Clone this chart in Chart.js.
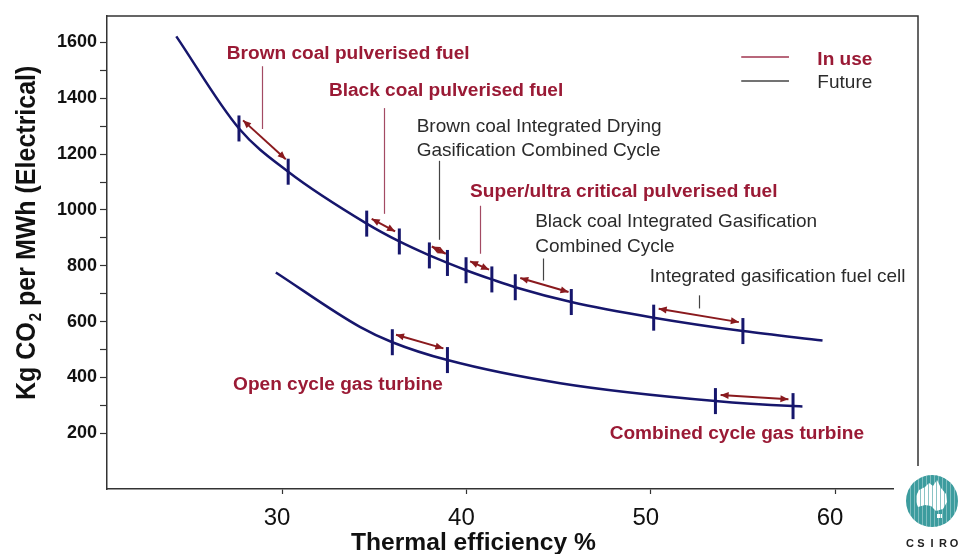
<!DOCTYPE html>
<html>
<head>
<meta charset="utf-8">
<script src="https://cdn.jsdelivr.net/npm/chart.js@4.4.1/dist/chart.umd.min.js"></script>
<style>
  html, body { margin: 0; padding: 0; background: #fff; }
  canvas { display: block; }
</style>
</head>
<body>
<canvas id="co2Chart" width="959" height="554"></canvas>
<script>
// coal curve (upper) - thermal efficiency % vs kg CO2 / MWh
const effCoal = [24.26, 27.66, 30.33, 34.59, 36.36, 37.99, 38.97, 39.98, 41.38, 42.65, 45.69, 50.16, 55.0, 59.32];
const co2Coal = [1622, 1292, 1137, 951, 887, 837, 810, 784, 751, 723, 670, 614, 566, 532];

// gas curve (lower)
const effGas = [29.66, 34.22, 35.98, 38.97, 45.09, 53.51, 57.72, 58.23];
const co2Gas = [776, 581, 526, 462, 379, 315, 297, 296];

// range markers on the curves
const markEffCoal = [27.66, 30.33, 34.59, 36.36, 37.99, 38.97, 39.98, 41.38, 42.65, 45.69, 50.16, 55.0];
const markCo2Coal = [1292, 1137, 951, 887, 837, 810, 784, 751, 723, 670, 614, 566];
const markEffGas = [35.98, 38.97, 53.51, 57.72];
const markCo2Gas = [526, 462, 315, 297];

// double arrows (start/end efficiency and co2)
const arrowEff = [[27.88, 30.2], [34.86, 36.13], [38.12, 38.88], [40.2, 41.23], [42.92, 45.54], [50.43, 54.78], [36.18, 38.75], [53.79, 57.47]];
const arrowCo2 = [[1321, 1182], [968, 923], [869, 843], [816, 786], [756, 706], [646, 598], [553, 504], [337, 322]];

// axis ticks
const xTicks = [30, 40, 50, 60];
const yTicks = [200, 300, 400, 500, 600, 700, 800, 900, 1000, 1100, 1200, 1300, 1400, 1500, 1600];
const yLabels = [200, 400, 600, 800, 1000, 1200, 1400, 1600];

// text notes: [text, eff, co2 (baseline), type]
const notes = [
  ['Brown coal pulverised fuel', 27.0, 1542, 'use'],
  ['Black coal pulverised fuel', 32.54, 1410, 'use'],
  ['Brown coal Integrated Drying', 37.3, 1281, 'future'],
  ['Gasification Combined Cycle', 37.3, 1194, 'future'],
  ['Super/ultra critical pulverised fuel', 40.2, 1047, 'use'],
  ['Black coal Integrated Gasification', 43.73, 938, 'future'],
  ['Combined Cycle', 43.73, 851, 'future'],
  ['Integrated gasification fuel cell', 49.95, 743, 'future'],
  ['Open cycle gas turbine', 27.34, 356, 'use'],
  ['Combined cycle gas turbine', 47.77, 180, 'use']
];
// leader lines: [eff, co2 top, co2 bottom, type]
const leaders = [
  [28.9, 1515, 1290, 'use'],
  [35.54, 1365, 986, 'use'],
  [38.53, 1176, 893, 'future'],
  [40.74, 1015, 843, 'use'],
  [44.17, 826, 747, 'future'],
  [52.6, 694, 647, 'future']
];

const NAVY = '#16166c';
const RED = '#9a1a35';
const ARROW = '#8a1a1e';
const GREY = '#2b2b2b';

function pts(xs, ys) { return xs.map((x, i) => ({ x: x, y: ys[i] })); }

const datasets = [
  { type: 'scatter', data: pts(markEffCoal, markCo2Coal), pointStyle: 'line', pointRotation: 90, pointRadius: 13, pointBorderWidth: 3, borderColor: NAVY, order: 0 },
  { type: 'scatter', data: pts(markEffGas, markCo2Gas), pointStyle: 'line', pointRotation: 90, pointRadius: 13, pointBorderWidth: 3, borderColor: NAVY, order: 0 },
  { type: 'line', data: pts(effCoal, co2Coal), borderColor: NAVY, borderWidth: 2.5, pointRadius: 0, tension: 0.4, cubicInterpolationMode: 'monotone', order: 2 },
  { type: 'line', data: pts(effGas, co2Gas), borderColor: NAVY, borderWidth: 2.5, pointRadius: 0, tension: 0.4, cubicInterpolationMode: 'monotone', order: 2 }
];
arrowEff.forEach((e, i) => {
  datasets.push({ type: 'line', data: pts(e, arrowCo2[i]), borderColor: ARROW, borderWidth: 2, pointRadius: 0, tension: 0, isArrow: true, order: 1 });
});

function drawText(ctx, txt, x, y, font, color, sx) {
  ctx.save();
  ctx.translate(x, y);
  ctx.scale(sx, 1);
  ctx.font = font;
  ctx.fillStyle = color;
  ctx.textAlign = 'left';
  ctx.textBaseline = 'alphabetic';
  ctx.fillText(txt, 0, 0);
  ctx.restore();
}

function head(ctx, tip, from) {
  const a = Math.atan2(tip.y - from.y, tip.x - from.x);
  const len = 8, w = 3.5;
  ctx.beginPath();
  ctx.moveTo(tip.x, tip.y);
  ctx.lineTo(tip.x - len * Math.cos(a) + w * Math.sin(a), tip.y - len * Math.sin(a) - w * Math.cos(a));
  ctx.lineTo(tip.x - len * Math.cos(a) - w * Math.sin(a), tip.y - len * Math.sin(a) + w * Math.cos(a));
  ctx.closePath();
  ctx.fill();
}

const extras = {
  id: 'extras',
  afterDatasetsDraw(chart) {
    const ctx = chart.ctx;
    const xs = chart.scales.x, ys = chart.scales.y;
    const area = chart.chartArea;

    // arrow heads
    ctx.save();
    ctx.fillStyle = ARROW;
    chart.data.datasets.forEach((ds, i) => {
      if (!ds.isArrow) return;
      const p = chart.getDatasetMeta(i).data;
      head(ctx, p[0], p[1]);
      head(ctx, p[1], p[0]);
    });
    ctx.restore();

    // leader lines
    ctx.save();
    ctx.lineWidth = 1.2;
    leaders.forEach(l => {
      const x = Math.round(xs.getPixelForValue(l[0])) + 0.5;
      ctx.strokeStyle = l[3] === 'use' ? '#a34a63' : '#444';
      ctx.beginPath();
      ctx.moveTo(x, ys.getPixelForValue(l[1]));
      ctx.lineTo(x, ys.getPixelForValue(l[2]));
      ctx.stroke();
    });
    ctx.restore();

    // notes
    notes.forEach(n => {
      const x = xs.getPixelForValue(n[1]), y = ys.getPixelForValue(n[2]);
      if (n[3] === 'use') drawText(ctx, n[0], x, y, 'bold 17.5px "Liberation Sans", Arial, sans-serif', RED, 1.09);
      else drawText(ctx, n[0], x, y, '19px "Liberation Sans", Arial, sans-serif', GREY, 1);
    });

    // legend
    ctx.save();
    ctx.lineWidth = 1.5;
    const lx1 = xs.getPixelForValue(54.91), lx2 = xs.getPixelForValue(57.5);
    ctx.strokeStyle = '#a0354f';
    ctx.beginPath(); ctx.moveTo(lx1, ys.getPixelForValue(1548)); ctx.lineTo(lx2, ys.getPixelForValue(1548)); ctx.stroke();
    ctx.strokeStyle = '#444';
    ctx.beginPath(); ctx.moveTo(lx1, ys.getPixelForValue(1462)); ctx.lineTo(lx2, ys.getPixelForValue(1462)); ctx.stroke();
    ctx.restore();
    drawText(ctx, 'In use', xs.getPixelForValue(59.04), ys.getPixelForValue(1521), 'bold 17.5px "Liberation Sans", Arial, sans-serif', RED, 1.09);
    drawText(ctx, 'Future', xs.getPixelForValue(59.04), ys.getPixelForValue(1436), '19px "Liberation Sans", Arial, sans-serif', GREY, 1);

    // top and right frame
    ctx.save();
    ctx.strokeStyle = '#333';
    ctx.lineWidth = 1.5;
    ctx.beginPath();
    ctx.moveTo(area.left, area.top);
    ctx.lineTo(area.right, area.top);
    ctx.lineTo(area.right, area.bottom);
    ctx.stroke();
    ctx.restore();
  },
  afterDraw(chart) {
    const ctx = chart.ctx;

    // y title
    ctx.save();
    ctx.translate(35, 400);
    ctx.scale(1.1, 1);
    ctx.rotate(-Math.PI / 2);
    ctx.fillStyle = '#111';
    ctx.textBaseline = 'alphabetic';
    ctx.font = 'bold 25px "Liberation Sans", Arial, sans-serif';
    ctx.fillText('Kg CO', 0, 0);
    let w = ctx.measureText('Kg CO').width;
    ctx.font = 'bold 15px "Liberation Sans", Arial, sans-serif';
    ctx.fillText('2', w + 1, 5);
    w += ctx.measureText('2').width + 1;
    ctx.font = 'bold 25px "Liberation Sans", Arial, sans-serif';
    ctx.fillText(' per MWh (Electrical)', w, 0);
    ctx.restore();

    // x title
    drawText(ctx, 'Thermal efficiency %', 351, 550, 'bold 23px "Liberation Sans", Arial, sans-serif', '#111', 1.07);

    // CSIRO logo
    ctx.save();
    ctx.fillStyle = '#fff';
    ctx.fillRect(894, 466, 65, 88);
    const cx = 932, cy = 501, r = 26;
    ctx.beginPath();
    ctx.arc(cx, cy, r, 0, Math.PI * 2);
    ctx.fillStyle = '#3c9c9e';
    ctx.fill();
    ctx.clip();
    ctx.fillStyle = '#fff';
    ctx.beginPath();
    ctx.moveTo(916, 496); ctx.lineTo(919, 490); ctx.lineTo(925, 487); ctx.lineTo(929, 483);
    ctx.lineTo(933, 486); ctx.lineTo(937, 480); ctx.lineTo(941, 488); ctx.lineTo(946, 494);
    ctx.lineTo(947, 502); ctx.lineTo(943, 509); ctx.lineTo(936, 511); ctx.lineTo(931, 506);
    ctx.lineTo(925, 505); ctx.lineTo(918, 507); ctx.lineTo(916, 502);
    ctx.closePath();
    ctx.fill();
    ctx.fillRect(937, 514, 5, 4);
    ctx.strokeStyle = 'rgba(60,156,158,0.6)';
    ctx.lineWidth = 1;
    for (let x = cx - r + 2; x < cx + r; x += 4) {
      ctx.beginPath(); ctx.moveTo(x + 0.5, cy - r); ctx.lineTo(x + 0.5, cy + r); ctx.stroke();
    }
    ctx.strokeStyle = 'rgba(255,255,255,0.35)';
    for (let x = cx - r + 4; x < cx + r; x += 4) {
      ctx.beginPath(); ctx.moveTo(x + 0.5, cy - r); ctx.lineTo(x + 0.5, cy + r); ctx.stroke();
    }
    ctx.restore();
    ctx.save();
    ctx.fillStyle = '#222';
    ctx.font = 'bold 11px "Liberation Sans", Arial, sans-serif';
    ctx.textAlign = 'center';
    'CSIRO'.split('').forEach((ch, i) => ctx.fillText(ch, 910 + i * 11, 547));
    ctx.restore();
  }
};

new Chart(document.getElementById('co2Chart'), {
  type: 'scatter',
  data: { datasets: datasets },
  options: {
    responsive: false,
    animation: false,
    layout: { padding: { top: 15, right: 41, left: 0, bottom: 0 } },
    plugins: { legend: { display: false }, tooltip: { enabled: false } },
    scales: {
      x: {
        type: 'linear',
        min: 20.5,
        max: 64.5,
        afterFit: s => { s.height = 65; },
        afterBuildTicks: s => { s.ticks = xTicks.map(v => ({ value: v })); },
        grid: { drawOnChartArea: false, drawTicks: true, tickLength: 5, color: '#333', tickWidth: 1.2 },
        border: { display: true, color: '#333', width: 1.5 },
        ticks: {
          padding: 10,
          labelOffset: -5,
          color: '#111',
          font: { family: '"Liberation Sans", Arial, sans-serif', size: 24 }
        }
      },
      y: {
        type: 'linear',
        min: 0,
        max: 1695,
        afterFit: s => { s.width = 107; },
        afterBuildTicks: s => { s.ticks = yTicks.map(v => ({ value: v })); },
        grid: { drawOnChartArea: false, drawTicks: true, tickLength: 7, color: '#333', tickWidth: 1.2 },
        border: { display: true, color: '#333', width: 1.5 },
        ticks: {
          padding: 3,
          color: '#111',
          font: { family: '"Liberation Sans", Arial, sans-serif', size: 18, weight: 'bold' },
          callback: v => yLabels.includes(v) ? String(v) : ''
        }
      }
    }
  },
  plugins: [extras]
});
</script>
</body>
</html>
